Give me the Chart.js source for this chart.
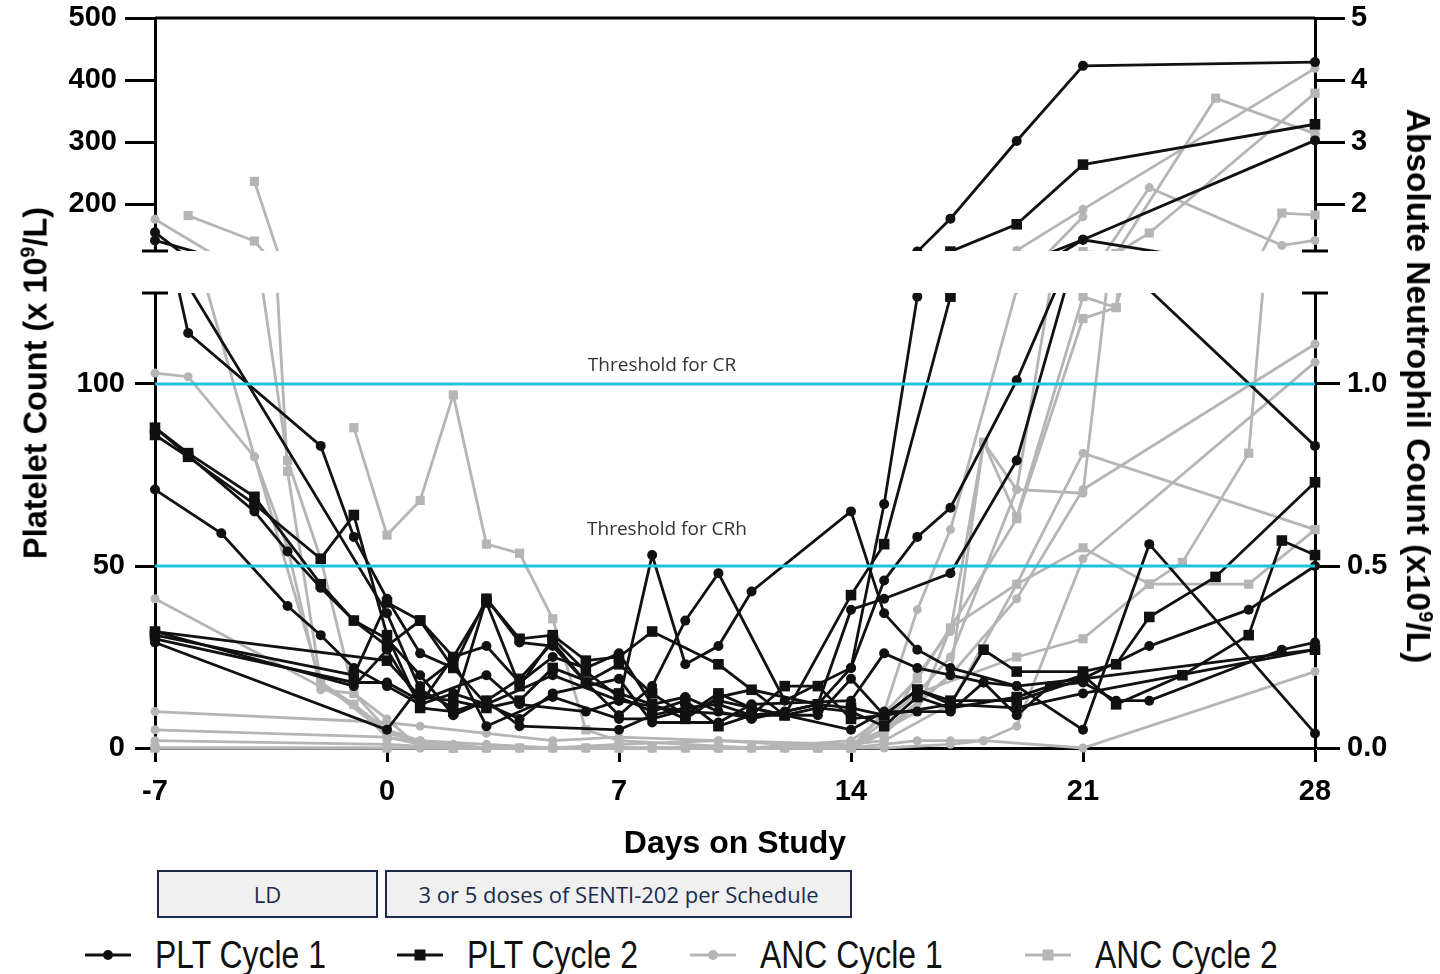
<!DOCTYPE html>
<html>
<head>
<meta charset="utf-8">
<script src="https://cdn.jsdelivr.net/npm/chart.js@4.4.0/dist/chart.umd.min.js"></script>
<style>
  html, body { margin: 0; padding: 0; background: #fff; }
  #wrap { position: relative; width: 1440px; height: 974px; overflow: hidden; font-family: "Liberation Sans", Arial, sans-serif; }
  canvas { position: absolute; left: 0; display: block; }
  #upper { top: 0; }
  #lower { top: 270px; }
  .ytitle { position: absolute; font-weight: bold; font-size: 32.5px; white-space: nowrap; color: #000; }
  .ytitle sup { font-size: 60%; vertical-align: super; line-height: 0; }
  #ltitle { left: 36px; top: 383px; transform: translate(-50%, -50%) rotate(-90deg); }
  #rtitle { left: 1418px; top: 386px; transform: translate(-50%, -50%) rotate(90deg); font-size: 33.5px; }
  .phase { position: absolute; top: 870px; height: 48px; box-sizing: border-box; border: 2px solid #1a2b4c;
           background: #f0f0f0; color: #1a2b4c; font-family: "Open Sans", sans-serif; font-size: 22px;
           display: flex; align-items: center; justify-content: center; }
  .lg { position: absolute; top: 932px; height: 46px; display: flex; align-items: center; white-space: nowrap;
        font-family: "Liberation Sans", Arial, sans-serif; font-size: 38px; color: #111; }
  .lg svg { margin-right: 24px; }
  .lg span { display: inline-block; transform: scaleX(0.84); transform-origin: left center; }
</style>
</head>
<body>
<div id="wrap">
  <canvas id="upper" width="1440" height="270"></canvas>
  <canvas id="lower" width="1440" height="600"></canvas>
  <div class="ytitle" id="ltitle">Platelet Count (x 10<sup>9</sup>/L)</div>
  <div class="ytitle" id="rtitle">Absolute Neutrophil Count (x10<sup>9</sup>/L)</div>
</div>
<script>
// [day, value] pairs, one list per patient
const pltCycle1 = [
  [[-7,155],[-6,114],[-2,83],[-1,58],[0,41],[1,26],[2,22],[3,12],[5,20],[7,13],[8,53],[9,23],[10,28],[11,43],[14,65],[15,37],[16,27],[17,22],[19,17],[21,5],[23,56],[28,4]],
  [[-7,142],[0,37],[1,16],[2,11],[3,41],[4,29],[5,28],[6,18],[7,9],[8,17],[9,35],[10,48],[12,13],[14,22],[15,67],[16,124],[17,177],[19,302],[21,423],[28,429]],
  [[-7,88],[-4,65],[-3,54],[-2,44],[-1,35],[0,30],[1,20],[2,9],[3,13],[4,6],[7,5],[8,9],[9,11],[10,12],[11,9],[12,10],[13,12],[14,22],[15,46],[16,58],[17,66],[19,101],[21,143],[28,83]],
  [[-7,71],[-5,59],[-3,39],[-2,31],[-1,22],[0,17],[1,12],[2,25],[3,28],[4,18],[5,25],[6,22],[7,26],[8,12],[9,14],[10,10],[11,8],[13,12],[14,38],[15,41],[17,48],[19,79],[21,143],[28,303]],
  [[-7,29],[0,5],[1,17],[2,24],[3,6],[5,14],[7,8],[8,8],[10,13],[12,9],[14,5],[15,10],[16,10],[17,10],[18,18],[19,9],[20,17],[21,18],[22,13],[23,13],[27,27],[28,29]],
  [[-7,32],[-1,17],[0,27],[1,12],[2,15],[3,12],[4,8],[5,15],[7,19],[8,7],[10,7],[11,12],[14,13],[15,26],[16,22],[17,20],[18,18],[19,17],[21,19],[23,28],[26,38],[28,50]],
  [[-7,30],[-1,18],[0,18],[1,13],[3,20],[4,12],[6,10],[7,13],[9,10],[11,9],[13,9],[14,19],[15,9],[17,12],[19,11],[21,15],[28,27]]
];
const pltCycle2 = [
  [[-7,88],[-6,81],[-4,69],[-2,45],[-1,35],[0,28],[1,35],[2,22],[3,41],[4,30],[5,31],[6,24],[7,25],[8,32],[10,23],[12,9],[14,42],[15,56],[17,124],[19,168],[21,264],[28,329]],
  [[-7,31],[-1,20],[0,40],[1,35],[2,25],[3,40],[4,17],[5,30],[6,21],[7,14],[8,10],[9,13],[10,6],[11,9],[12,17],[13,17],[14,8],[15,9],[16,16],[17,12],[18,27],[19,21],[21,21],[22,23],[23,36],[25,47],[28,73]],
  [[-7,86],[-6,80],[-4,67],[-2,52],[-1,64],[0,31],[1,11],[2,10],[3,13],[4,19],[5,29],[6,18],[7,23],[8,15],[9,9],[10,15],[11,11],[12,9],[13,11],[14,10],[15,6],[16,14],[17,11],[19,14],[21,20],[22,12],[24,20],[26,31],[27,57],[28,53]],
  [[-7,32],[0,24],[1,14],[2,13],[3,11],[4,13],[5,22],[7,15],[8,12],[9,8],[10,14],[11,16],[13,12],[14,11],[15,9],[16,16],[17,13],[19,13],[21,19],[28,27]]
];
const ancCycle1 = [
  [[-7,1.76],[-4,0.80],[-3,0.55],[-2,0.16],[-1,0.15],[0,0.08],[1,0],[2,0],[3,0],[4,0],[5,0],[7,0],[9,0],[11,0],[14,0],[15,0.10],[16,0.38],[17,0.60],[19,1.26],[21,1.92],[28,4.19]],
  [[-7,1.03],[-6,1.02],[-4,0.80],[-2,0.18],[0,0.04],[1,0.02],[2,0.01],[3,0],[5,0],[7,0.01],[10,0.02],[14,0.01],[15,0.05],[17,0.20],[19,0.41],[21,0.71],[28,1.11]],
  [[-7,0.41],[-1,0.12],[0,0.05],[1,0.02],[3,0.01],[5,0],[7,0],[9,0],[12,0],[14,0],[16,0.02],[17,0.02],[18,0.02],[19,0.06],[21,0.52],[28,1.06]],
  [[-7,0.10],[0,0.07],[1,0.06],[3,0.04],[5,0.02],[7,0.03],[10,0.02],[14,0],[16,0.10],[17,0.33],[19,0.45],[21,0.81],[28,0.60]],
  [[-7,0],[0,0],[1,0],[2,0],[3,0],[4,0],[5,0],[6,0],[7,0],[8,0],[9,0],[10,0],[11,0],[12,0],[13,0],[14,0],[15,0],[17,0.01],[18,0.02],[21,0],[28,0.21]],
  [[-7,0.02],[0,0.01],[2,0],[4,0],[6,0],[8,0],[10,0],[12,0],[14,0],[15,0.04],[16,0.20],[17,0.32],[18,0.84],[19,0.71],[21,1.80]],
  [[-7,0.05],[0,0.03],[1,0.01],[3,0],[7,0],[11,0],[14,0.02],[16,0.15],[17,0.25],[19,0.71],[21,0.70],[23,2.27],[27,1.34],[28,1.42]]
];
const ancCycle2 = [
  [[-6,1.82],[-4,1.41],[-3,0.79],[-2,0.52],[-1,0.15],[0,0.05],[1,0.01],[2,0],[4,0],[6,0],[8,0],[10,0],[14,0],[16,0.19],[17,0.33],[19,0.63],[21,1.18],[22,1.21],[25,3.71],[28,3.14]],
  [[-4,2.37],[-3,0.76],[-2,0.18],[-1,0.12],[0,0.03],[2,0],[5,0],[9,0],[13,0],[15,0.02],[17,0.12],[19,0.45],[21,0.55],[23,0.45],[26,0.45],[28,0.60]],
  [[-1,0.88],[0,0.585],[1,0.68],[2,0.97],[3,0.56],[4,0.535],[5,0.355],[6,0.05],[7,0.02],[9,0.01],[11,0],[13,0],[14,0.01],[15,0.04],[17,0.20],[18,0.84],[19,0.635],[21,1.24],[22,1.21],[23,1.54],[28,3.79]],
  [[-7,0],[0,0],[3,0],[7,0],[12,0],[14,0],[16,0.15],[19,0.25],[21,0.30],[23,0.45],[24,0.51],[26,0.81],[27,1.86],[28,1.83]]
];

const groupLabels = ['PLT Cycle 1', 'PLT Cycle 2', 'ANC Cycle 1', 'ANC Cycle 2'];
const dayTicks = [-7, 0, 7, 14, 21, 28];
const pltUpperTicks = [200, 300, 400, 500];
const pltLowerTicks = [0, 50, 100];
const ancUpperTicks = [2, 3, 4, 5];
const ancLowerTicks = [0, 0.5, 1.0];
const thresholdValues = [100, 50];
const thresholdLabels = ['Threshold for CR', 'Threshold for CRh'];
const phaseLabels = ['LD', '3 or 5 doses of SENTI-202 per Schedule'];
const phaseDays = [[-7, 0], [0, 14]];

const BLACK = '#111111', GREY = '#b5b5b5', CYAN = '#1cc4de';
const groupStyles = [
  { color: BLACK, pointStyle: 'circle', radius: 5, axis: 'y' },
  { color: BLACK, pointStyle: 'rect', radius: 7.5, axis: 'y' },
  { color: GREY, pointStyle: 'circle', radius: 4.5, axis: 'y2' },
  { color: GREY, pointStyle: 'rect', radius: 6.5, axis: 'y2' }
];
const thresholdLabelOffset = [{ dx: -73, dy: -18 }, { dx: -68, dy: -36 }];
const FAMILY = '"Liberation Sans", Arial, sans-serif';
// small lineHeight keeps Chart.js from padding the plot area for the y labels
const yTickFont = { family: FAMILY, weight: 'bold', size: 29, lineHeight: 0.6 };
const xTickFont = { family: FAMILY, weight: 'bold', size: 29 };

function makeDatasets(clip) {
  const groups = [pltCycle1, pltCycle2, ancCycle1, ancCycle2];
  const sets = [];
  groups.forEach((g, gi) => {
    const st = groupStyles[gi];
    g.forEach(pts => {
      sets.push({
        label: groupLabels[gi],
        data: pts.map(p => ({ x: p[0], y: p[1] })),
        yAxisID: st.axis,
        borderColor: st.color,
        backgroundColor: st.color,
        borderWidth: 2.8,
        pointStyle: st.pointStyle,
        pointRadius: st.radius,
        pointHoverRadius: st.radius,
        pointBorderWidth: 0,
        tension: 0,
        clip: clip
      });
    });
  });
  return sets;
}

function yAxis(pos, min, max, ticks, fmt, tickLen, pad, width) {
  return {
    type: 'linear', position: pos, min: min, max: max,
    afterBuildTicks: s => { s.ticks = ticks.map(v => ({ value: v })); },
    afterFit: s => { s.width = width; },
    grid: { drawOnChartArea: false, tickLength: tickLen, tickWidth: 3, tickColor: '#000', color: '#000' },
    border: { display: true, color: '#000', width: 3 },
    ticks: { color: '#000', font: yTickFont, padding: pad, callback: fmt }
  };
}

function line(ctx, x1, y1, x2, y2, color, w) {
  ctx.save();
  ctx.strokeStyle = color;
  ctx.lineWidth = w;
  ctx.beginPath();
  ctx.moveTo(x1, y1);
  ctx.lineTo(x2, y2);
  ctx.stroke();
  ctx.restore();
}

const upperFrame = {
  id: 'upperFrame',
  afterDraw(chart) {
    const a = chart.chartArea, ctx = chart.ctx;
    line(ctx, a.left, a.top, a.right, a.top, '#000', 3);
    line(ctx, a.left - 13, a.bottom, a.left + 13, a.bottom, '#000', 3);
    line(ctx, a.right - 13, a.bottom, a.right + 13, a.bottom, '#000', 3);
  }
};

const lowerFrame = {
  id: 'lowerFrame',
  afterDatasetsDraw(chart) {
    const a = chart.chartArea, ctx = chart.ctx, y = chart.scales.y;
    thresholdValues.forEach((v, i) => {
      const py = y.getPixelForValue(v);
      const off = thresholdLabelOffset[i];
      line(ctx, a.left, py, a.right, py, CYAN, 3);
      ctx.save();
      ctx.fillStyle = '#333';
      ctx.font = '19px "Open Sans", sans-serif';
      ctx.textAlign = 'center';
      ctx.textBaseline = 'middle';
      ctx.fillText(thresholdLabels[i], (a.left + a.right) / 2 + off.dx, py + off.dy);
      ctx.restore();
    });
  },
  afterDraw(chart) {
    const a = chart.chartArea, ctx = chart.ctx;
    line(ctx, a.left - 13, a.top, a.left + 13, a.top, '#000', 3);
    line(ctx, a.right - 13, a.top, a.right + 13, a.top, '#000', 3);
  }
};

const common = {
  responsive: false,
  animation: false,
  events: [],
  plugins: { legend: { display: false }, tooltip: { enabled: false } }
};

const upperChart = new Chart(document.getElementById('upper').getContext('2d'), {
  type: 'line',
  data: { datasets: makeDatasets({ left: 12, right: 12, top: 12, bottom: 0 }) },
  options: Object.assign({}, common, {
    layout: { padding: { top: 18, bottom: 19, left: 0, right: 0 } },
    scales: {
      x: { type: 'linear', min: -7, max: 28, display: false },
      y: yAxis('left', 125, 500, pltUpperTicks, v => String(v), 30, 8, 155),
      y2: yAxis('right', 1.25, 5, ancUpperTicks, v => String(v), 30, 6, 125)
    }
  }),
  plugins: [upperFrame]
});

const lowerChart = new Chart(document.getElementById('lower').getContext('2d'), {
  type: 'line',
  data: { datasets: makeDatasets({ left: 12, right: 12, top: 0, bottom: 12 }) },
  options: Object.assign({}, common, {
    layout: { padding: { top: 23, bottom: 0, left: 0, right: 0 } },
    scales: {
      x: {
        type: 'linear', min: -7, max: 28,
        afterBuildTicks: s => { s.ticks = dayTicks.map(v => ({ value: v })); },
        afterFit: s => { s.height = 122; },
        grid: { drawOnChartArea: false, tickLength: 14, tickWidth: 3, tickColor: '#000', color: '#000' },
        border: { display: true, color: '#000', width: 3 },
        ticks: { color: '#000', font: xTickFont, padding: 13, maxRotation: 0 },
        title: { display: true, text: 'Days on Study', color: '#000',
                 font: { family: FAMILY, weight: 'bold', size: 32 },
                 padding: { top: 0, bottom: 7 } }
      },
      y: yAxis('left', 0, 125, pltLowerTicks, v => String(v), 20, 10, 155),
      y2: yAxis('right', 0, 1.25, ancLowerTicks, v => v.toFixed(1), 25, 7, 125)
    }
  }),
  plugins: [lowerFrame]
});

// phase boxes under the day axis
const wrap = document.getElementById('wrap');
const xs = lowerChart.scales.x;
phaseLabels.forEach((t, i) => {
  const d = document.createElement('div');
  d.className = 'phase';
  const l = xs.getPixelForValue(phaseDays[i][0]) + (i === 0 ? 2 : -2);
  const r = xs.getPixelForValue(phaseDays[i][1]) + (i === 0 ? -9 : 1);
  d.style.left = l + 'px';
  d.style.width = (r - l) + 'px';
  d.textContent = t;
  wrap.appendChild(d);
});

// legend: one entry per group
const legendLeft = [85, 397, 690, 1025];
groupLabels.forEach((t, i) => {
  const st = groupStyles[i];
  const item = document.createElement('div');
  item.className = 'lg';
  item.style.left = legendLeft[i] + 'px';
  const mark = st.pointStyle === 'circle'
    ? '<circle cx="23" cy="11" r="5" fill="' + st.color + '"/>'
    : '<rect x="17.5" y="5.5" width="11" height="11" fill="' + st.color + '"/>';
  item.innerHTML = '<svg width="46" height="22"><line x1="0" y1="11" x2="46" y2="11" stroke="' + st.color +
    '" stroke-width="3"/>' + mark + '</svg><span>' + t + '</span>';
  wrap.appendChild(item);
});
</script>
</body>
</html>
